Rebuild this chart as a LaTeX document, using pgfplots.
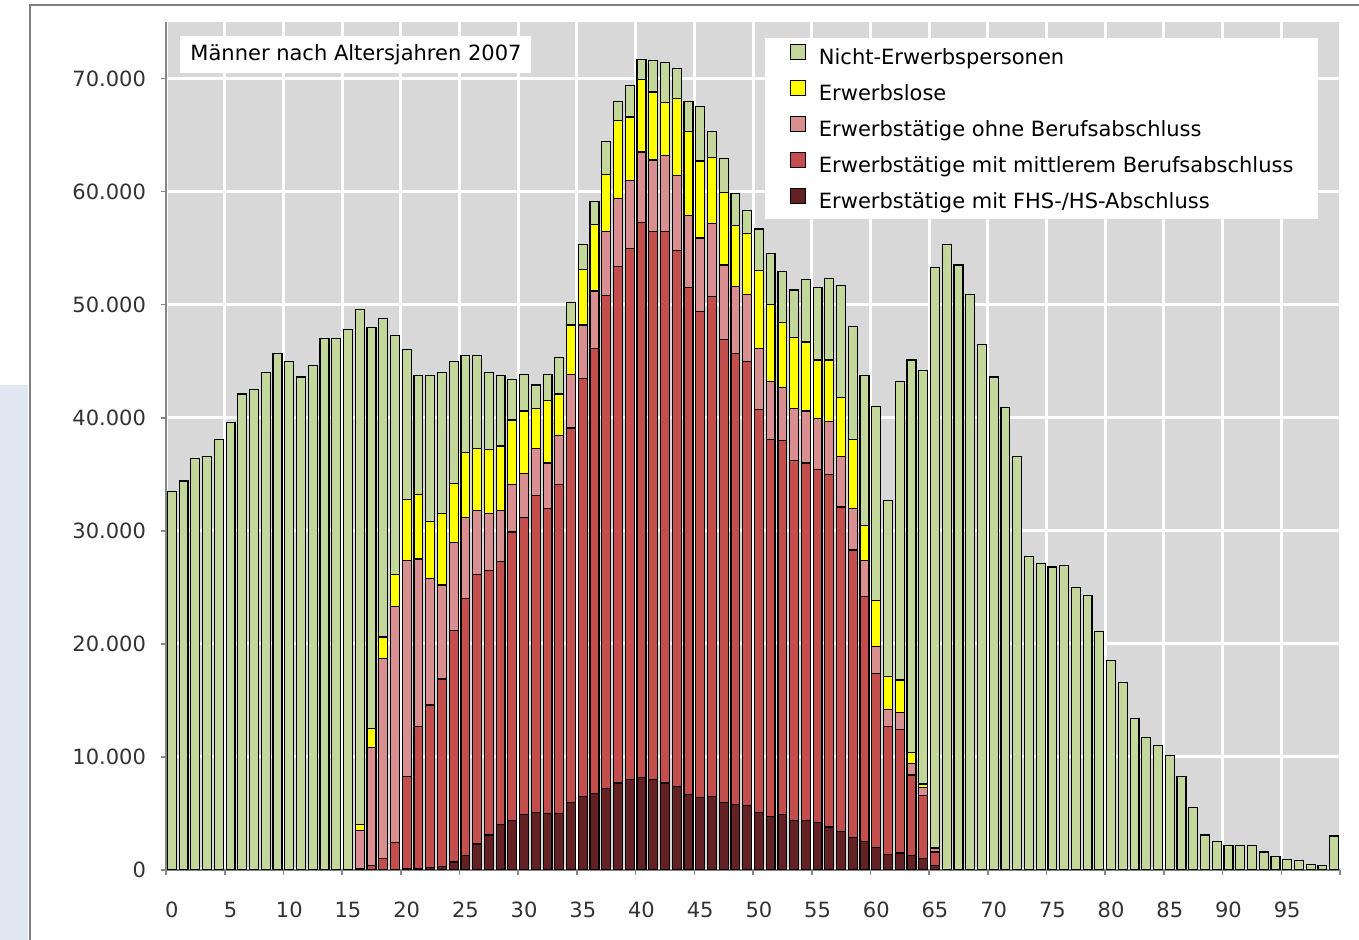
\documentclass[border=0pt]{standalone}
\usepackage{fontspec}
\setmainfont{DejaVu Sans}
\usepackage{pgfplots}
\usepackage{pgfplotstable}
\pgfplotsset{compat=1.18}

\definecolor{cGreen}{RGB}{196,215,155}
\definecolor{cYellow}{RGB}{255,255,0}
\definecolor{cPink}{RGB}{217,142,144}
\definecolor{cRed}{RGB}{196,78,76}
\definecolor{cDark}{RGB}{99,33,35}
\definecolor{plotbg}{RGB}{216,216,216}
\definecolor{axisgray}{RGB}{134,134,134}
\definecolor{ticktext}{RGB}{50,50,50}
\definecolor{stripblue}{RGB}{224,233,243}

% age, Nicht-Erwerbspersonen, Erwerbslose, ohne / mittlerer / FHS-HS Abschluss
\pgfplotstableread{
age ne el ob mb hs
0 33500 0 0 0 0
1 34400 0 0 0 0
2 36400 0 0 0 0
3 36600 0 0 0 0
4 38100 0 0 0 0
5 39600 0 0 0 0
6 42100 0 0 0 0
7 42500 0 0 0 0
8 44000 0 0 0 0
9 45700 0 0 0 0
10 45000 0 0 0 0
11 43600 0 0 0 0
12 44600 0 0 0 0
13 47000 0 0 0 0
14 47000 0 0 0 0
15 47800 0 0 0 0
16 45600 500 3350 150 0
17 35500 1700 10400 400 0
18 28200 1900 17700 1000 0
19 21200 2800 20900 2350 50
20 13200 5400 19100 8200 100
21 10500 5700 14800 12600 100
22 12900 5000 11200 14400 200
23 12500 6300 8300 16600 300
24 10800 5200 7800 20500 700
25 8600 5700 7200 22700 1300
26 8200 5500 5700 23800 2300
27 6800 5700 5000 23400 3100
28 6200 5700 4500 23300 4000
29 3600 5700 4200 25500 4400
30 3200 5500 3900 26300 4900
31 2100 3500 4200 28000 5100
32 2300 5500 4000 27000 5000
33 3200 3700 4300 29100 5000
34 2000 4400 4700 33100 6000
35 2200 4900 4700 37000 6500
36 2000 5900 5100 39300 6800
37 2900 5000 5700 43600 7200
38 1700 6900 6000 45700 7700
39 2800 5600 6000 47000 8000
40 1800 6400 6200 49100 8200
41 2800 6000 6300 48500 8000
42 3500 4700 6700 48800 7700
43 2700 6800 6600 47400 7400
44 2700 7400 6400 44800 6700
45 4800 6800 6500 43000 6400
46 2300 5800 6500 44200 6500
47 3000 6400 6600 40900 6000
48 2800 5400 5900 39900 5800
49 2000 5400 5900 39300 5700
50 3700 6900 5400 35600 5100
51 4500 6800 5100 33400 4700
52 4500 5700 4700 33100 4900
53 4200 6300 4600 31800 4400
54 5500 6100 4600 31600 4400
55 6400 5200 4500 31200 4200
56 7200 5400 4700 31200 3800
57 9900 5200 4500 28700 3400
58 10000 6100 3700 25400 2900
59 13200 3100 3200 21700 2500
60 17200 4000 2400 15400 2000
61 15600 2900 1500 11300 1400
62 26400 2900 1500 10900 1500
63 34700 1000 1000 7100 1300
64 36600 300 700 5600 1000
65 51300 100 300 1200 400
66 55300 0 0 0 0
67 53500 0 0 0 0
68 50900 0 0 0 0
69 46500 0 0 0 0
70 43600 0 0 0 0
71 40900 0 0 0 0
72 36600 0 0 0 0
73 27700 0 0 0 0
74 27100 0 0 0 0
75 26800 0 0 0 0
76 26900 0 0 0 0
77 25000 0 0 0 0
78 24300 0 0 0 0
79 21100 0 0 0 0
80 18500 0 0 0 0
81 16600 0 0 0 0
82 13400 0 0 0 0
83 11700 0 0 0 0
84 11000 0 0 0 0
85 10100 0 0 0 0
86 8300 0 0 0 0
87 5500 0 0 0 0
88 3100 0 0 0 0
89 2500 0 0 0 0
90 2200 0 0 0 0
91 2200 0 0 0 0
92 2200 0 0 0 0
93 1600 0 0 0 0
94 1200 0 0 0 0
95 960 0 0 0 0
96 850 0 0 0 0
97 520 0 0 0 0
98 420 0 0 0 0
99 3000 0 0 0 0
}\maenner

\pgfplotsset{
  sqlegend/.style={legend image code/.code={\draw[##1, line width=0.5pt] (0pt,0pt) rectangle (7.5pt,7.5pt);}},
  segment/.style={fill=#1, draw=black, line width=0.6pt, sqlegend},
}

\begin{document}
\begin{tikzpicture}[font=\fontsize{10.5pt}{12.6pt}\selectfont]
\useasboundingbox (0,0) rectangle (679.5pt,470pt);
% remains of the surrounding frame
\fill[stripblue] (0,0) rectangle (14pt,277.5pt);
\draw[gray, line width=1pt] (15pt,0) -- (15pt,467.5pt) -- (679.5pt,467.5pt);

\begin{axis}[
  at={(83pt,35pt)}, anchor=south west,
  scale only axis, width=587pt, height=424pt,
  xmin=-0.5, xmax=99.5, ymin=0, ymax=75000,
  ybar stacked, bar width=0.76,
  axis background/.style={fill=plotbg},
  axis x line*=bottom, axis y line*=left,
  axis line style={draw=axisgray, line width=1pt},
  xtick={-0.5,4.5,...,99.5}, xticklabels={},
  extra x ticks={0,5,...,95},
  extra x tick labels={0,5,10,15,20,25,30,35,40,45,50,55,60,65,70,75,80,85,90,95},
  extra x tick style={grid=none, major tick length=0pt, xticklabel style={yshift=-12.5pt}},
  ytick={0,10000,...,70000},
  yticklabels={0,10.000,20.000,30.000,40.000,50.000,60.000,70.000},
  xmajorgrids, ymajorgrids,
  major grid style={white, line width=1.5pt},
  tick align=outside, major tick length=2.5pt,
  tick style={draw=axisgray, line width=0.8pt},
  tick label style={color=ticktext},
  yticklabel style={xshift=-4pt},
  reverse legend,
  legend cell align=left,
  legend style={at={(0.982,0.982)}, anchor=north east, fill=white, draw=none,
    inner xsep=12.5pt, inner ysep=3pt, row sep=5.25pt,
    nodes={inner sep=0pt, text height=7.6pt, text depth=2.4pt},
    /tikz/every odd column/.append style={column sep=6.5pt}},
]
\addplot[segment=cDark] table[x=age, y=hs] {\maenner};
\addplot[segment=cRed] table[x=age, y=mb] {\maenner};
\addplot[segment=cPink] table[x=age, y=ob] {\maenner};
\addplot[segment=cYellow] table[x=age, y=el] {\maenner};
\addplot[segment=cGreen] table[x=age, y=ne] {\maenner};
\legend{Erwerbstätige mit FHS-/HS-Abschluss,
  Erwerbstätige mit mittlerem Berufsabschluss,
  Erwerbstätige ohne Berufsabschluss,
  Erwerbslose,
  Nicht-Erwerbspersonen}
\node[fill=white, anchor=north west, inner xsep=5pt, minimum height=18.5pt,
  text height=7.6pt, text depth=2pt]
  at (rel axis cs:0.012,0.9835) {Männer nach Altersjahren 2007};
\end{axis}
\end{tikzpicture}
\end{document}
